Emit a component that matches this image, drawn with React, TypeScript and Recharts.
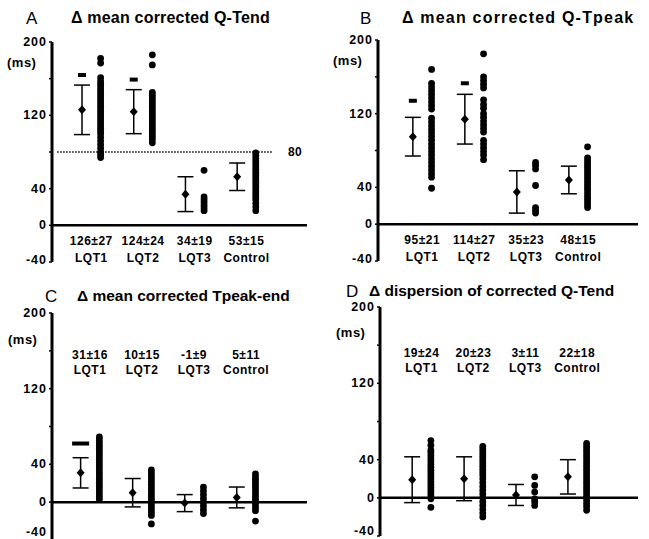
import React from "react";
import { ScatterChart, Scatter, XAxis, YAxis, ErrorBar, ReferenceLine } from "recharts";

const groups = ["LQT1", "LQT2", "LQT3", "Control"];
const yTicks = [-40, 0, 40, 80, 120, 160, 200];
const yLabels = [-40, 0, 40, 120, 200];

// A: mean corrected Q-Tend
const qTendMean = [126, 124, 34, 53];
const qTendSd = [27, 24, 19, 15];
const qTendStars = [164, 159];
const qTendDots = [
  [182, 177, 161, 157, 154, 151, 148, 145, 142, 139, 136, 133, 130, 127, 124, 121, 118, 115, 112, 109, 106, 103, 100, 96, 92, 88, 84, 80, 77, 74],
  [186, 175, 145, 142, 139, 136, 133, 130, 127, 124, 121, 118, 115, 112, 109, 106, 103, 100, 97, 94, 90],
  [60, 31, 28, 25, 22, 19, 16],
  [79, 76, 73, 70, 67, 64, 61, 58, 55, 52, 49, 46, 43, 40, 37, 34, 31, 28, 24, 20, 16],
];

// B: mean corrected Q-Tpeak
const qTpeakMean = [95, 114, 35, 48];
const qTpeakSd = [21, 27, 23, 15];
const qTpeakStars = [134, 153];
const qTpeakDots = [
  [168, 153, 149, 145, 141, 137, 133, 129, 125, 115, 111, 107, 103, 99, 95, 91, 87, 83, 79, 75, 71, 67, 63, 59, 55, 51, 39],
  [185, 160, 156, 152, 148, 135, 130, 126, 120, 116, 112, 108, 104, 100, 91, 87, 83, 79, 75, 70],
  [67, 64, 60, 42, 18, 15, 12],
  [84, 72, 69, 66, 63, 60, 57, 54, 51, 48, 45, 42, 39, 36, 33, 30, 27, 24, 21, 18],
];

// C: mean corrected Tpeak-end
const tpeMean = [31, 10, -1, 5];
const tpeSd = [16, 15, 9, 11];
const tpeStars = [62];
const tpeDots = [
  [69, 66, 63, 60, 57, 54, 51, 48, 45, 42, 39, 36, 33, 30, 27, 24, 21, 18, 15, 12, 9, 6, 3],
  [34, 31, 28, 25, 22, 19, 16, 13, 10, 7, 4, 1, -2, -5, -8, -11, -14, -23],
  [16, 12, 8, 4, 0, -4, -8, -12],
  [30, 27, 24, 21, 18, 15, 12, 9, 6, 3, 0, -3, -6, -9, -20],
];

// D: dispersion of corrected Q-Tend
const dispMean = [19, 20, 3, 22];
const dispSd = [24, 23, 11, 18];
const dispStars: number[] = [];
const dispDots = [
  [60, 55, 50, 47, 44, 41, 38, 35, 32, 29, 26, 23, 20, 17, 14, 11, 8, 5, 2, -1, -10],
  [54, 51, 48, 45, 42, 39, 36, 33, 30, 27, 24, 20, 16, 12, 8, 4, 0, -4, -8, -12, -16, -20],
  [22, 13, 6, -1, -4, -8],
  [57, 54, 51, 48, 45, 42, 39, 36, 33, 30, 27, 24, 21, 18, 15, 12, 9, 6, 3, 0, -3, -6, -9, -13],
];

const FONT = "'Liberation Sans', Arial, sans-serif";
const DOT_OFFSET = 0.36;
const LABEL_OFFSET = 0.18;

const Dot = (p: any) => <circle cx={p.cx} cy={p.cy} r={3.4} fill="#000" />;
const Diamond = (p: any) => (
  <polygon
    points={`${p.cx},${p.cy - 4.5} ${p.cx + 4},${p.cy} ${p.cx},${p.cy + 4.5} ${p.cx - 4},${p.cy}`}
    fill="#000"
  />
);
const Label = (p: any) => (
  <text
    x={p.cx}
    y={p.cy}
    dy={4}
    textAnchor="middle"
    fontSize={12}
    letterSpacing={0.5}
    fontWeight="bold"
    fontFamily={FONT}
    fill="#000"
  >
    {p.payload.text}
  </text>
);

interface PanelProps {
  left: number;
  top: number;
  means: number[];
  sds: number[];
  dots: number[][];
  stars: number[];
  starWidth: number;
  labelY: [number, number];
  xDomain: [number, number];
  margin: { top: number; right: number; bottom: number; left: number };
  bottomLift: number;
  threshold?: boolean;
}

const Panel: React.FC<PanelProps> = ({ left, top, means, sds, dots, stars, starWidth, labelY, xDomain, margin, bottomLift, threshold }) => {
  const meanData = means.map((m, i) => ({ x: i, y: m, err: sds[i] }));
  const dotData = dots.flatMap((col, i) => col.map((v) => ({ x: i + DOT_OFFSET, y: v })));
  const starData = stars.map((v, i) => ({ x: i, y: v }));
  const labelData = groups.flatMap((g, i) => [
    { x: i + LABEL_OFFSET, y: labelY[0], text: `${means[i]}±${sds[i]}` },
    { x: i + LABEL_OFFSET, y: labelY[1], text: g },
  ]);
  if (threshold) labelData.push({ x: 4.12, y: 80, text: "80" });
  const Star = (p: any) => <rect x={p.cx - starWidth / 2} y={p.cy - 2} width={starWidth} height={4} fill="#000" />;

  const renderTick = (p: any) => {
    const v = p.payload.value;
    if (!yLabels.includes(v)) return <g />;
    return (
      <text
        x={p.x}
        y={p.y}
        dy={v === -40 ? 4 - bottomLift : 4}
        textAnchor="end"
        fontSize={12.5}
        letterSpacing={1}
        fontWeight="bold"
        fontFamily={FONT}
        fill="#000"
      >
        {v}
      </text>
    );
  };

  return (
    <div style={{ position: "absolute", left, top }}>
      <ScatterChart width={325} height={270} margin={margin}>
        <XAxis type="number" dataKey="x" domain={xDomain} hide />
        <YAxis
          type="number"
          dataKey="y"
          domain={[-40, 200]}
          ticks={yTicks}
          width={40}
          tickSize={3}
          tickMargin={2}
          tick={renderTick}
          axisLine={{ stroke: "#000", strokeWidth: 3 }}
          tickLine={{ stroke: "#000", strokeWidth: 1.5 }}
          interval={0}
        />
        <ReferenceLine y={0} stroke="#000" strokeWidth={2.5} />
        {threshold && (
          <ReferenceLine
            segment={[
              { x: -0.48, y: 80 },
              { x: 3.69, y: 80 },
            ]}
            stroke="#000"
            strokeWidth={1.5}
            strokeDasharray="1.5 1.5"
          />
        )}
        <Scatter data={meanData} shape={Diamond} isAnimationActive={false}>
          <ErrorBar dataKey="err" direction="y" width={8} stroke="#000" strokeWidth={1.5} isAnimationActive={false} />
        </Scatter>
        <Scatter data={dotData} shape={Dot} isAnimationActive={false} />
        <Scatter data={starData} shape={Star} isAnimationActive={false} />
        <Scatter data={labelData} shape={Label} isAnimationActive={false} />
      </ScatterChart>
    </div>
  );
};

const txt: React.CSSProperties = {
  position: "absolute",
  fontFamily: FONT,
  fontWeight: "bold",
  color: "#000",
  whiteSpace: "nowrap",
  lineHeight: 1,
};

const Title = (props: { x: number; y: number; letter: string; lx: number; text: string; size: number; spacing: number }) => (
  <>
    <div style={{ ...txt, left: props.lx, top: props.y - 8, fontSize: 17, fontWeight: "normal" }}>{props.letter}</div>
    <div style={{ ...txt, left: props.x, top: props.y - 8, fontSize: props.size, letterSpacing: props.spacing }}>
      {props.text}
    </div>
  </>
);

const Ms = ({ x, y }: { x: number; y: number }) => (
  <div style={{ ...txt, left: x, top: y - 7, fontSize: 13, letterSpacing: 0.5 }}>(ms)</div>
);

export default function App() {
  return (
    <div style={{ position: "absolute", left: 0, top: 0, width: 649, height: 539, background: "#fff", overflow: "hidden" }}>
      <Panel
        left={0}
        top={0}
        means={qTendMean}
        sds={qTendSd}
        dots={qTendDots}
        stars={qTendStars}
        starWidth={8}
        labelY={[-17, -36]}
        xDomain={[-0.58, 4.35]}
        margin={{ top: 42, right: 18, bottom: 8, left: 12 }}
        bottomLift={2}
        threshold
      />
      <Panel
        left={325}
        top={0}
        means={qTpeakMean}
        sds={qTpeakSd}
        dots={qTpeakDots}
        stars={qTpeakStars}
        starWidth={8}
        labelY={[-17, -36]}
        xDomain={[-0.67, 4.33]}
        margin={{ top: 40, right: 12, bottom: 9, left: 13 }}
        bottomLift={2}
      />
      <Panel
        left={0}
        top={270}
        means={tpeMean}
        sds={tpeSd}
        dots={tpeDots}
        stars={tpeStars}
        starWidth={17}
        labelY={[156, 140]}
        xDomain={[-0.55, 4.35]}
        margin={{ top: 43, right: 18, bottom: 0, left: 12 }}
        bottomLift={8}
      />
      <Panel
        left={325}
        top={270}
        means={dispMean}
        sds={dispSd}
        dots={dispDots}
        stars={dispStars}
        starWidth={8}
        labelY={[152, 136]}
        xDomain={[-0.62, 4.35]}
        margin={{ top: 37, right: 12, bottom: 4, left: 15 }}
        bottomLift={5}
      />
      <Title lx={26} x={71} y={18} letter="A" text="Δ mean corrected Q-Tend" size={16} spacing={0.2} />
      <Title lx={360} x={402} y={18} letter="B" text="Δ mean corrected Q-Tpeak" size={16} spacing={1.2} />
      <Title lx={45} x={77} y={296} letter="C" text="Δ mean corrected Tpeak-end" size={15.5} spacing={0} />
      <Title lx={346} x={369} y={291} letter="D" text="Δ dispersion of corrected Q-Tend" size={15.5} spacing={0} />
      <Ms x={7} y={63} />
      <Ms x={333} y={61} />
      <Ms x={8} y={340} />
      <Ms x={336} y={333} />
    </div>
  );
}
